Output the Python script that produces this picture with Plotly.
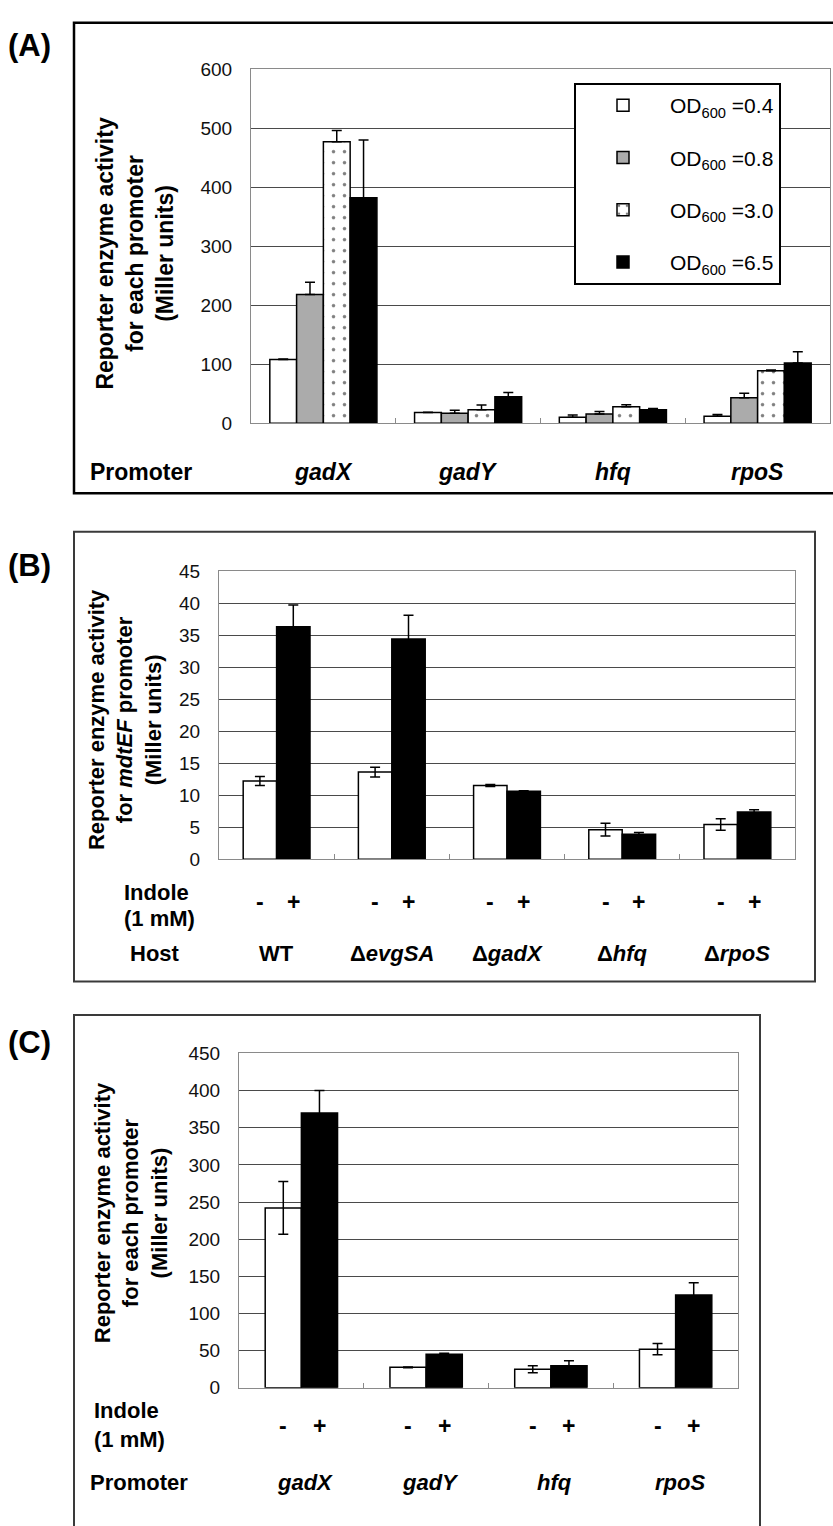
import plotly.graph_objects as go

W, H = 833, 1526

# ---------------- data ----------------
# Panel A
promoters = ["gadX", "gadY", "hfq", "rpoS"]
od_labels = ["0.4", "0.8", "3.0", "6.5"]
a_od04 = [108, 18, 10, 12]
a_od08 = [218, 17, 15.5, 43]
a_od30 = [477, 23, 28, 89]
a_od65 = [382, 45, 23, 102]
a_err04 = [1, 0.5, 4, 3]
a_err08 = [21, 5, 4.5, 8]
a_err30 = [19, 8, 3.5, 1]
a_err65 = [98, 7, 2, 19]
a_ticks = [0, 100, 200, 300, 400, 500, 600]

# Panel B
hosts = ["WT", "ΔevgSA", "ΔgadX", "Δhfq", "ΔrpoS"]
host_labels = ["WT", "Δ<i>evgSA</i>", "Δ<i>gadX</i>", "Δ<i>hfq</i>", "Δ<i>rpoS</i>"]
b_minus = [12.2, 13.6, 11.5, 4.6, 5.4]
b_plus = [36.3, 34.4, 10.6, 3.9, 7.35]
b_err_minus = [0.7, 0.75, 0.15, 1.0, 0.9]
b_err_plus = [3.4, 3.7, 0.1, 0.25, 0.35]
b_ticks = [0, 5, 10, 15, 20, 25, 30, 35, 40, 45]

# Panel C
c_minus = [242, 27.5, 25, 52]
c_plus = [370, 45, 29.5, 125]
c_err_minus = [35.5, 0.5, 4.7, 7.6]
c_err_plus = [30, 1.5, 7, 16.5]
c_ticks = [0, 50, 100, 150, 200, 250, 300, 350, 400, 450]

indole_signs = ["-", "+"]

# ---------------- helpers ----------------
FONT = "Liberation Sans, Arial, sans-serif"


def px(x):
    return x / W


def py(y):
    return 1 - y / H


fig = go.Figure()

# ---------------- panel A bars ----------------
a_series = [a_od04, a_od08, a_od30, a_od65]
a_errs = [a_err04, a_err08, a_err30, a_err65]
a_fill = ["white", "#ababab", "white", "black"]
a_group = 0.74
a_w = a_group / 4
for i, (vals, errs) in enumerate(zip(a_series, a_errs)):
    marker = dict(color=a_fill[i], line=dict(color="black", width=1.5))
    if i == 2:
        marker["pattern"] = dict(shape=".", fgcolor="black", bgcolor="white",
                                 size=11, solidity=0.08)
    fig.add_trace(go.Bar(
        x=promoters, y=vals, xaxis="x", yaxis="y",
        name=f"OD<sub>600</sub> ={od_labels[i]}",
        legendgroup=f"g{i}",
        width=a_w, offset=-a_group / 2 + i * a_w,
        marker=marker,
        error_y=dict(type="data", array=errs, arrayminus=[0] * len(errs),
                     symmetric=False, color="black", thickness=1.5, width=5),
    ))

# ---------------- panel B bars ----------------
bc_group = 0.58
bc_w = bc_group / 2
for j, (vals, errs, col) in enumerate([(b_minus, b_err_minus, "white"),
                                       (b_plus, b_err_plus, "black")]):
    fig.add_trace(go.Bar(
        x=hosts, y=vals, xaxis="x2", yaxis="y2", showlegend=False,
        width=bc_w, offset=-bc_group / 2 + j * bc_w,
        marker=dict(color=col, line=dict(color="black", width=1.5)),
        error_y=dict(type="data", array=errs, color="black", thickness=1.5, width=5),
    ))

# ---------------- panel C bars ----------------
for j, (vals, errs, col) in enumerate([(c_minus, c_err_minus, "white"),
                                       (c_plus, c_err_plus, "black")]):
    fig.add_trace(go.Bar(
        x=promoters, y=vals, xaxis="x3", yaxis="y3", showlegend=False,
        width=bc_w, offset=-bc_group / 2 + j * bc_w,
        marker=dict(color=col, line=dict(color="black", width=1.5)),
        error_y=dict(type="data", array=errs, color="black", thickness=1.5, width=5),
    ))

# ---------------- axes ----------------
def xax(dom, cats):
    return dict(domain=dom, type="category", categoryorder="array", categoryarray=cats,
                range=[-0.5, len(cats) - 0.5], showticklabels=False,
                showline=True, linecolor="#8a8a8a", linewidth=1, mirror=True,
                ticks="inside", tickson="boundaries", ticklen=5, tickcolor="#8a8a8a",
                showgrid=False, zeroline=False, fixedrange=True)


def yax(dom, rng, ticks, anchor):
    return dict(domain=dom, range=rng, tickvals=ticks, ticktext=[str(t) for t in ticks],
                showline=True, linecolor="#8a8a8a", linewidth=1, mirror=True,
                showgrid=True, gridcolor="#4a4a4a", gridwidth=1.3,
                zeroline=False, ticks="", ticklabelstandoff=14,
                tickfont=dict(family=FONT, size=19, color="#111"),
                anchor=anchor, fixedrange=True)


layout = dict(
    width=W, height=H, margin=dict(l=0, r=0, t=0, b=0),
    paper_bgcolor="white", plot_bgcolor="white",
    barmode="overlay", font=dict(family=FONT, color="black"),
    xaxis=xax([px(251), px(830)], promoters) | dict(anchor="y"),
    yaxis=yax([py(419), py(60)], [0, 600], a_ticks, "x"),
    xaxis2=xax([px(219), px(795)], hosts) | dict(anchor="y2"),
    yaxis2=yax([py(861), py(569)], [0, 45], b_ticks, "x2"),
    xaxis3=xax([px(239), px(738)], promoters) | dict(anchor="y3"),
    yaxis3=yax([py(1397), py(1058)], [0, 450], c_ticks, "x3"),
    legend=dict(x=px(574), y=py(74), xanchor="left", yanchor="top",
                bordercolor="black", borderwidth=2, bgcolor="white",
                font=dict(family=FONT, size=21, color="black"),
                tracegroupgap=22, itemwidth=84, traceorder="grouped",
                entrywidth=150, entrywidthmode="pixels"),
)
fig.update_layout(**layout)

# ---------------- frames ----------------
frames = [((74, 13, 845, 490), "black", 2.5),
          ((74, 529, 815, 985), "#3a3a3a", 2),
          ((74, 1019, 760, 1545), "#3a3a3a", 2)]
for (x0, y0, x1, y1), col, lw in frames:
    fig.add_shape(type="rect", xref="paper", yref="paper",
                  x0=px(x0), x1=px(x1), y0=py(y1), y1=py(y0),
                  line=dict(color=col, width=lw), layer="below")

ann = []


def text(x, y, t, size, xanchor="left", bold=True, angle=0, xref="paper", xshift=0):
    ann.append(dict(x=x, y=y, xref=xref, yref="paper", text=(f"<b>{t}</b>" if bold else t),
                    showarrow=False, xanchor=xanchor, yanchor="middle",
                    textangle=angle, xshift=xshift,
                    font=dict(family=FONT, size=size, color="black")))


# panel letters
text(px(6), py(36), "(A)", 31)
text(px(6), py(563), "(B)", 31)
text(px(6), py(1047), "(C)", 31)

# y-axis titles
text(px(135), py(247), "Reporter enzyme activity<br>for each promoter<br>(Miller units)", 23,
     xanchor="center", angle=-90)
text(px(125), py(719), "Reporter enzyme activity<br>for <i>mdtEF</i> promoter<br>(Miller units)", 22,
     xanchor="center", angle=-90)
text(px(131), py(1220), "Reporter enzyme activity<br>for each promoter<br>(Miller units)", 22,
     xanchor="center", angle=-90)

# Panel A category row
text(px(88), py(468), "Promoter", 23)
for p in promoters:
    ann.append(dict(x=p, y=py(468), xref="x", yref="paper", text=f"<b><i>{p}</i></b>",
                    showarrow=False, xanchor="center", yanchor="middle",
                    font=dict(family=FONT, size=23, color="black")))

# Panel B rows
text(px(122), py(895), "Indole", 22)
text(px(122), py(921), "(1 mM)", 22)
text(px(128), py(957), "Host", 22)
for i, (h, lab) in enumerate(zip(hosts, host_labels)):
    ann.append(dict(x=h, y=py(957), xref="x2", yref="paper", text=f"<b>{lab}</b>",
                    showarrow=False, xanchor="center", yanchor="middle",
                    font=dict(family=FONT, size=22, color="black")))
    for j, s in enumerate(indole_signs):
        ann.append(dict(x=i - bc_group / 2 + (j + 0.5) * bc_w, y=py(904), xref="x2", yref="paper",
                        text=f"<b>{s}</b>", showarrow=False, xanchor="center", yanchor="middle",
                        font=dict(family=FONT, size=23, color="black")))

# Panel C rows
text(px(92), py(1420), "Indole", 22)
text(px(92), py(1449), "(1 mM)", 22)
text(px(88), py(1493), "Promoter", 22)
for i, p in enumerate(promoters):
    ann.append(dict(x=p, y=py(1493), xref="x3", yref="paper", text=f"<b><i>{p}</i></b>",
                    showarrow=False, xanchor="center", yanchor="middle", xshift=4,
                    font=dict(family=FONT, size=22, color="black")))
    for j, s in enumerate(indole_signs):
        ann.append(dict(x=i - bc_group / 2 + (j + 0.5) * bc_w, y=py(1436), xref="x3", yref="paper",
                        text=f"<b>{s}</b>", showarrow=False, xanchor="center", yanchor="middle",
                        font=dict(family=FONT, size=23, color="black")))

fig.update_layout(annotations=ann)
fig.write_html("out.html", config={"displayModeBar": False},
               post_script="document.body.style.margin='0';")
